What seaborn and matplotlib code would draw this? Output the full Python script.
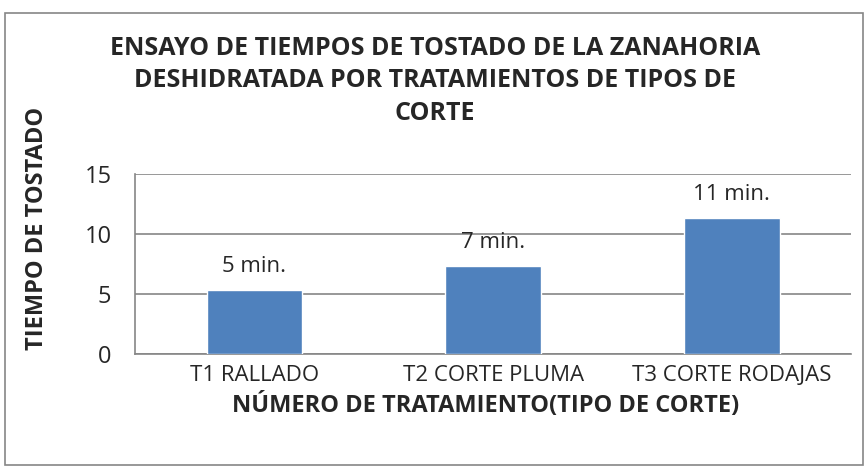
import numpy as np
import pandas as pd
import matplotlib
matplotlib.use('Agg')
import matplotlib.pyplot as plt
import seaborn as sns
from matplotlib.patches import Rectangle

tratamientos = ['T1 RALLADO', 'T2 CORTE PLUMA', 'T3 CORTE RODAJAS']
tiempos = [5.33, 7.33, 11.33]
etiquetas = ['5 min.', '7 min.', '11 min.']
y_ticks = [0, 5, 10, 15]

titulo = ('ENSAYO DE TIEMPOS DE TOSTADO DE LA ZANAHORIA\n'
          'DESHIDRATADA POR TRATAMIENTOS DE TIPOS DE\nCORTE')

sns.set_style('white')
plt.rcParams['font.family'] = ['Open Sans', 'DejaVu Sans']

df = pd.DataFrame({'tratamiento': tratamientos, 'tiempo': tiempos})

fig = plt.figure(figsize=(8.66, 4.70), dpi=100)
ax = fig.add_axes([0.156, 0.247, 0.827, 0.383])

sns.barplot(data=df, x='tratamiento', y='tiempo', color='#4F81BD',
            saturation=1, width=0.4, ax=ax, zorder=3)
ax.bar_label(ax.containers[0], labels=etiquetas, padding=9, fontsize=16)

ax.set_ylim(0, 15)
ax.set_yticks(y_ticks)
ax.set_xlim(-0.5, 2.5)
ax.grid(axis='y', color='#868686', linewidth=1.2, zorder=0)
for s in ['top', 'right']:
    ax.spines[s].set_visible(False)
for s in ['left', 'bottom']:
    ax.spines[s].set_color('#868686')
    ax.spines[s].set_linewidth(1.2)
ax.tick_params(axis='y', length=6, color='#868686', width=1.2, labelsize=17, pad=11)
ax.tick_params(axis='x', length=0, labelsize=16, pad=8)
ax.set_xlabel('')
ax.set_ylabel('')

fig.text(0.502, 0.828, titulo, ha='center', va='center', fontsize=18,
         fontweight='bold', linespacing=1.4)
fig.text(0.561, 0.138, 'NÚMERO DE TRATAMIENTO(TIPO DE CORTE)', ha='center',
         va='center', fontsize=17, fontweight='bold')
fig.text(0.043, 0.515, 'TIEMPO DE TOSTADO', ha='center', va='center',
         rotation=90, fontsize=17, fontweight='bold')

fig.patches.append(Rectangle((0.006, 0.01), 0.99, 0.962, transform=fig.transFigure,
                             fill=False, edgecolor='#868686', linewidth=1.2))

fig.savefig('out.png', dpi=100)
